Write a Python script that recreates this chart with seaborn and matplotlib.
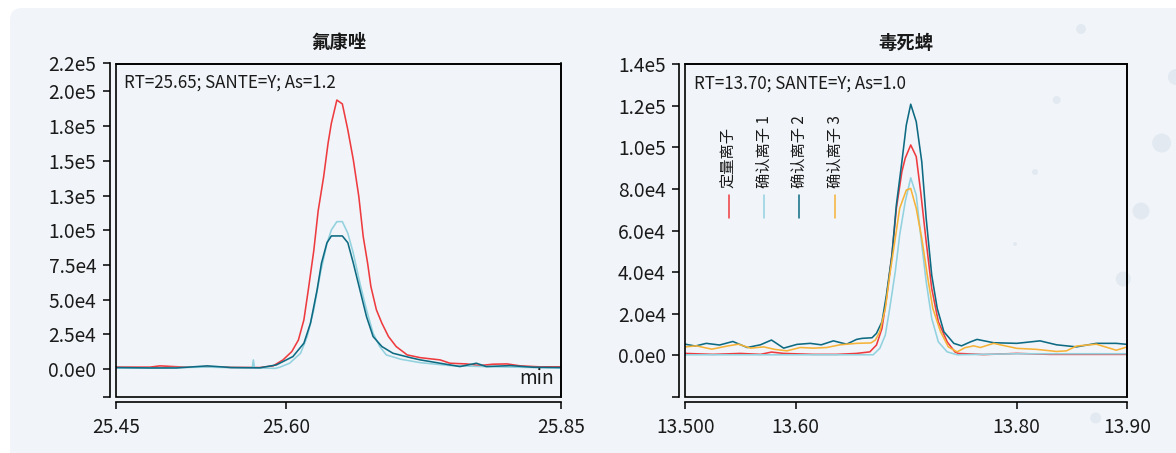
import numpy as np
import pandas as pd
import matplotlib
matplotlib.use("Agg")
import matplotlib.pyplot as plt
from matplotlib.patches import FancyBboxPatch, Circle, Rectangle
import seaborn as sns

# ---------------- data ----------------
ion_names = ["定量离子", "确认离子 1", "确认离子 2", "确认离子 3"]
ion_colors = ["#ee3b3f", "#92d1de", "#0d6a82", "#f6b338"]

# 氟康唑 (left panel)
fl_q_t = [25.445, 25.476, 25.485, 25.510, 25.528, 25.550, 25.576, 25.588, 25.597, 25.605,
          25.611, 25.616, 25.620, 25.625, 25.629, 25.634, 25.638, 25.641, 25.646, 25.651,
          25.656, 25.661, 25.666, 25.670, 25.674, 25.677, 25.682, 25.687, 25.693, 25.700,
          25.710, 25.722, 25.740, 25.749, 25.764, 25.776, 25.788, 25.801, 25.813, 25.831, 25.850]
fl_q_v = [1500, 1500, 2400, 1400, 1800, 1300, 1200, 2400, 6700, 12700,
          21000, 35500, 57000, 85300, 114000, 138600, 162600, 177000, 193700, 190900,
          172200, 150600, 124200, 95400, 76300, 59400, 42700, 33100, 23500, 16300,
          10300, 8300, 6700, 4300, 3800, 2600, 3600, 3800, 2400, 1700, 1700]

fl_c1_t = [25.445, 25.480, 25.528, 25.560, 25.569, 25.570, 25.571, 25.590, 25.594, 25.603,
           25.613, 25.619, 25.625, 25.631, 25.637, 25.641, 25.646, 25.651, 25.656, 25.661,
           25.667, 25.673, 25.679, 25.685, 25.691, 25.704, 25.722, 25.749, 25.779, 25.825, 25.850]
fl_c1_v = [800, 900, 1500, 900, 900, 6700, 900, 600, 1400, 4300,
           11500, 23500, 42700, 69000, 90600, 100200, 106200, 106200, 97800, 83400,
           61900, 42700, 25900, 16300, 10300, 7200, 4700, 2600, 1900, 1200, 800]

fl_c2_t = [25.445, 25.476, 25.500, 25.528, 25.550, 25.576, 25.591, 25.606, 25.616, 25.622,
           25.628, 25.632, 25.637, 25.641, 25.651, 25.656, 25.661, 25.667, 25.673, 25.679,
           25.687, 25.697, 25.713, 25.722, 25.740, 25.758, 25.773, 25.782, 25.804, 25.825, 25.850]
fl_c2_v = [1200, 900, 900, 2400, 1200, 1000, 3100, 9100, 18700, 33100,
           57000, 76300, 91000, 95900, 95900, 91000, 76300, 57000, 37800, 23500,
           16300, 11500, 8300, 6700, 4300, 1900, 4300, 1900, 2600, 1400, 1200]

# 毒死蜱 (right panel)
ch_q_t = [13.500, 13.525, 13.550, 13.568, 13.578, 13.589, 13.616, 13.637, 13.655, 13.667,
          13.673, 13.678, 13.682, 13.687, 13.691, 13.696, 13.699, 13.704, 13.709, 13.713,
          13.718, 13.723, 13.729, 13.737, 13.744, 13.747, 13.770, 13.800, 13.830, 13.900]
ch_q_v = [960, 500, 960, 500, 1600, 960, 500, 500, 960, 1700,
          5000, 13000, 27400, 48300, 70700, 88300, 94800, 101200, 95600, 78700,
          54700, 32200, 16200, 6500, 1700, 960, 400, 960, 500, 500]

ch_c1_t = [13.500, 13.600, 13.670, 13.676, 13.681, 13.685, 13.690, 13.694, 13.699, 13.704,
           13.709, 13.713, 13.718, 13.723, 13.729, 13.737, 13.746, 13.800, 13.900]
ch_c1_v = [300, 300, 300, 3400, 9800, 22600, 40200, 57900, 73900, 85400,
           77100, 57900, 35400, 17800, 6500, 1700, 300, 800, 800]

ch_c2_t = [13.500, 13.509, 13.519, 13.531, 13.543, 13.556, 13.568, 13.578, 13.589, 13.601,
           13.613, 13.623, 13.634, 13.646, 13.655, 13.660, 13.669, 13.673, 13.678, 13.682,
           13.687, 13.691, 13.696, 13.700, 13.704, 13.709, 13.714, 13.718, 13.723, 13.728,
           13.734, 13.743, 13.750, 13.758, 13.764, 13.779, 13.800, 13.821, 13.836, 13.854,
           13.872, 13.890, 13.900]
ch_c2_v = [5400, 4500, 5800, 5000, 6700, 3800, 5100, 7400, 3500, 5300,
           5800, 5100, 7000, 5400, 7700, 8200, 8500, 10600, 16200, 29000,
           48300, 72300, 93100, 110800, 120800, 112400, 93100, 65900, 38600, 22600,
           11400, 5800, 4600, 6500, 7700, 6100, 5800, 7000, 5100, 4100,
           5800, 5800, 5300]

ch_c3_t = [13.500, 13.510, 13.524, 13.538, 13.548, 13.559, 13.571, 13.581, 13.592, 13.604,
           13.616, 13.628, 13.640, 13.655, 13.668, 13.672, 13.676, 13.681, 13.685, 13.690,
           13.694, 13.700, 13.704, 13.709, 13.714, 13.719, 13.724, 13.731, 13.738, 13.746,
           13.753, 13.761, 13.767, 13.779, 13.800, 13.818, 13.836, 13.845, 13.854, 13.872,
           13.890, 13.900]
ch_c3_v = [4100, 4600, 3000, 4500, 5400, 3500, 4100, 2900, 2200, 3800,
           3500, 3800, 5100, 5800, 6000, 7400, 11400, 22600, 38600, 56300,
           70700, 79500, 80300, 70700, 56300, 38600, 22600, 11400, 4100, 1700,
           3700, 4600, 3800, 5800, 3400, 2900, 1900, 2200, 4500, 5400,
           2500, 4100]

titles = ["氟康唑", "毒死蜱"]
notes = ["RT=25.65; SANTE=Y; As=1.2", "RT=13.70; SANTE=Y; As=1.0"]

left_xticks = [25.445, 25.60, 25.85]
left_xlabels = ["25.45", "25.60", "25.85"]
left_yticks = [-2e4, 0, 2.5e4, 5e4, 7.5e4, 1e5, 1.25e5, 1.5e5, 1.75e5, 2e5, 2.2e5]
left_ylabels = ["", "0.0e0", "2.5e4", "5.0e4", "7.5e4", "1.0e5", "1.3e5", "1.5e5", "1.8e5", "2.0e5", "2.2e5"]

right_xticks = [13.50, 13.60, 13.80, 13.90]
right_xlabels = ["13.500", "13.60", "13.80", "13.90"]
right_yticks = [-2e4, 0, 2e4, 4e4, 6e4, 8e4, 1e5, 1.2e5, 1.4e5]
right_ylabels = ["", "0.0e0", "2.0e4", "4.0e4", "6.0e4", "8.0e4", "1.0e5", "1.2e5", "1.4e5"]

# ---------------- frames ----------------
def long_df(series):
    rows = []
    for name, t, v in series:
        for a, b in zip(t, v):
            rows.append((name, a, b))
    return pd.DataFrame(rows, columns=["ion", "time", "intensity"])

df_left = long_df([(ion_names[0], fl_q_t, fl_q_v),
                   (ion_names[1], fl_c1_t, fl_c1_v),
                   (ion_names[2], fl_c2_t, fl_c2_v)])
df_right = long_df([(ion_names[0], ch_q_t, ch_q_v),
                    (ion_names[1], ch_c1_t, ch_c1_v),
                    (ion_names[2], ch_c2_t, ch_c2_v),
                    (ion_names[3], ch_c3_t, ch_c3_v)])

# ---------------- style ----------------
sns.set_theme(style="ticks")
plt.rcParams["font.family"] = ["Noto Sans CJK SC", "DejaVu Sans"]
plt.rcParams["axes.unicode_minus"] = False

BG = "#f1f5f9"
fig = plt.figure(figsize=(11.76, 4.53), dpi=100, facecolor="white")

# rounded background card
card = FancyBboxPatch((0.10, -0.5), 12.5, 4.45 + 0.5, boxstyle="round,pad=0,rounding_size=0.12",
                      transform=fig.dpi_scale_trans, facecolor=BG, edgecolor="none", zorder=-5)
fig.patches.append(card)
for (bx, by, br) in [(1081, 29, 5), (1176, 77, 8), (1056.7, 100, 4), (1161.7, 143, 9.5),
                     (1035, 172, 3), (1141, 211, 8.5), (1015, 244, 2), (1123.3, 279, 7.5),
                     (1095.7, 418, 5.5)]:
    fig.patches.append(Circle((bx / 100, (453 - by) / 100), br / 100, transform=fig.dpi_scale_trans,
                              facecolor="#e2e9f0", edgecolor="none", zorder=-4))

ax1 = fig.add_axes([116 / 1176, 56 / 453, 445 / 1176, 333.5 / 453])
ax2 = fig.add_axes([685.3 / 1176, 56 / 453, 442 / 1176, 332.7 / 453])

pal_left = dict(zip(ion_names[:3], ion_colors[:3]))
pal_right = dict(zip(ion_names, ion_colors))

sns.lineplot(data=df_left, x="time", y="intensity", hue="ion", palette=pal_left,
             estimator=None, sort=True, legend=False, linewidth=1.15, ax=ax1)
sns.lineplot(data=df_right, x="time", y="intensity", hue="ion", palette=pal_right,
             estimator=None, sort=True, legend=False, linewidth=1.15, ax=ax2)


def style_axis(ax, xlim, ylim, xt, xl, yt, yl, title, note):
    ax.set_facecolor("none")
    ax.set_xlim(*xlim)
    ax.set_ylim(*ylim)
    ax.set_xticks(xt)
    ax.set_xticklabels(xl)
    ax.set_yticks(yt)
    ax.set_yticklabels(yl)
    ax.set_xlabel("")
    ax.set_ylabel("")
    for s in ax.spines.values():
        s.set_linewidth(1.2)
        s.set_color("black")
        s.set_visible(True)
    ax.spines["left"].set_position(("outward", 4.3))
    ax.spines["bottom"].set_position(("outward", 3.8))
    ax.add_patch(Rectangle((0, 0), 1, 1, transform=ax.transAxes, fill=False,
                           edgecolor="black", linewidth=1.2, clip_on=False, zorder=5))
    ax.tick_params(axis="both", direction="out", length=5.3, width=1.1, colors="black",
                   labelsize=13.8, pad=4.5)
    ax.tick_params(axis="x", pad=5.5)
    for lab in ax.get_xticklabels() + ax.get_yticklabels():
        lab.set_color("#1a1a1a")
    ax.text(0.5, 1.062, title, transform=ax.transAxes, ha="center", va="center",
            fontsize=13.2, fontweight="bold", color="#1a1a1a")
    ax.text(0.019, 0.943, note, transform=ax.transAxes, ha="left", va="center",
            fontsize=12.2, color="#1a1a1a")

style_axis(ax1, (25.445, 25.85), (-2e4, 2.2e5), left_xticks, left_xlabels,
           left_yticks, left_ylabels, titles[0], notes[0])
style_axis(ax2, (13.50, 13.90), (-2e4, 1.4e5), right_xticks, right_xlabels,
           right_yticks, right_ylabels, titles[1], notes[1])

ax1.text(0.985, 0.025, "min", transform=ax1.transAxes, ha="right", va="bottom",
         fontsize=13.8, color="#1a1a1a")

# rotated legend in right panel
leg_x = [0.098, 0.178, 0.258, 0.339]
for name, col, lx in zip(ion_names, ion_colors, leg_x):
    ax2.text(lx, 0.627, name, transform=ax2.transAxes, rotation=90, ha="center", va="bottom",
             fontsize=11, color="#1a1a1a")
    ax2.plot([lx, lx], [0.537, 0.607], transform=ax2.transAxes, color=col, linewidth=1.1)

fig.savefig("out.png", dpi=100, facecolor="white")
